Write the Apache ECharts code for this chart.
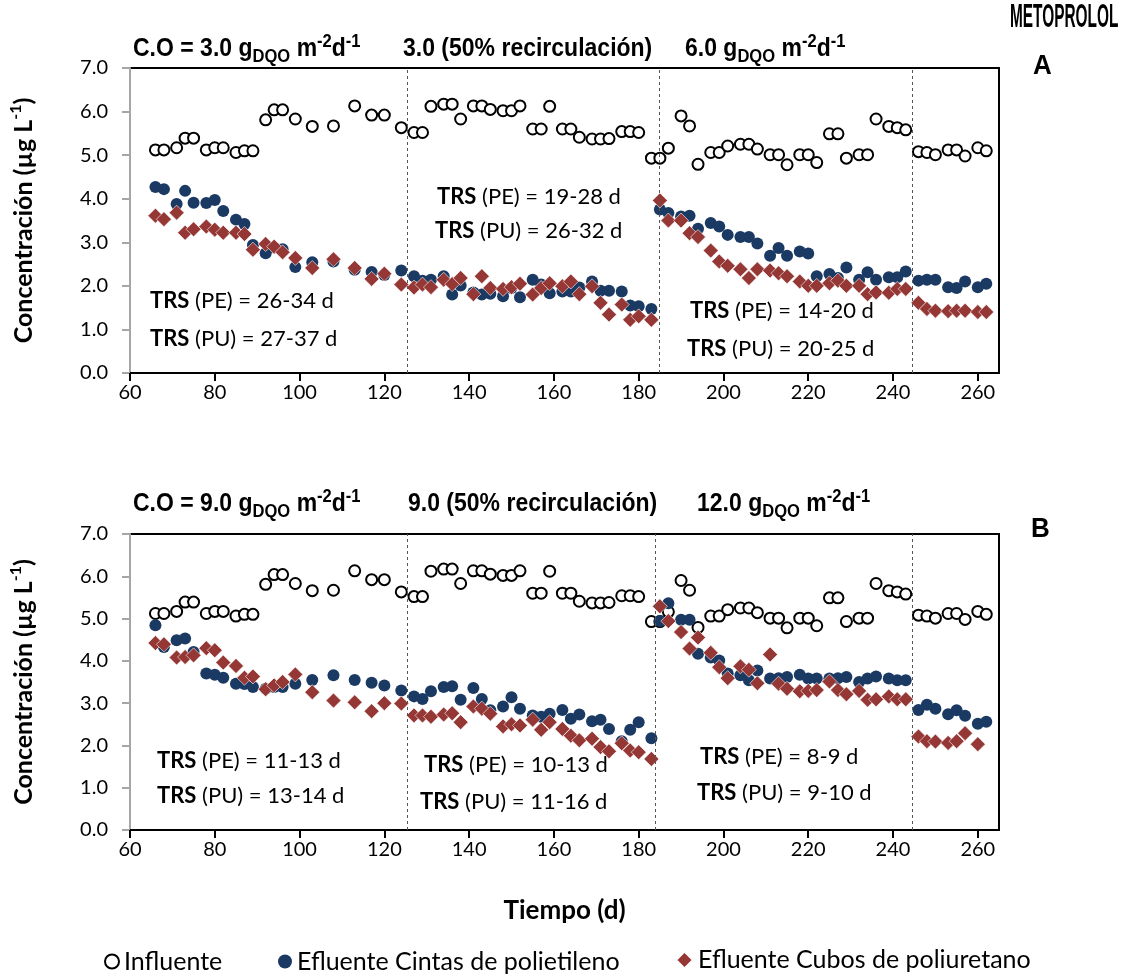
<!DOCTYPE html>
<html>
<head>
<meta charset="utf-8">
<script src="https://cdn.jsdelivr.net/npm/echarts@6/dist/echarts.min.js"></script>
<style>
html,body{margin:0;padding:0;background:#fff;}
#chart{width:1121px;height:976px;}
</style>
</head>
<body>
<div id="chart"></div>
<script>
// ---- DATA ----
const days = [66,68,71,73,75,78,80,82,85,87,89,92,94,96,99,103,108,113,117,120,124,127,129,131,134,136,138,141,143,145,148,150,152,155,157,159,162,164,166,169,171,173,176,178,180,183,185,187,190,192,194,197,199,201,204,206,208,211,213,215,218,220,222,225,227,229,232,234,236,239,241,243,246,248,250,253,255,257,260,262];

const influente = [5.12,5.12,5.17,5.39,5.39,5.12,5.17,5.17,5.06,5.10,5.10,5.81,6.04,6.04,5.83,5.66,5.67,6.13,5.92,5.92,5.63,5.52,5.52,6.12,6.17,6.17,5.83,6.13,6.13,6.05,6.02,6.02,6.13,5.60,5.60,6.12,5.60,5.60,5.41,5.37,5.37,5.38,5.54,5.54,5.52,4.93,4.93,5.16,5.90,5.67,4.79,5.06,5.06,5.21,5.25,5.25,5.14,5.01,5.01,4.78,5.01,5.01,4.83,5.49,5.49,4.93,5.01,5.01,5.83,5.66,5.63,5.58,5.08,5.06,5.01,5.12,5.12,4.98,5.17,5.10];

const peA = [4.27,4.22,3.88,4.18,3.91,3.90,3.97,3.72,3.52,3.42,2.94,2.75,2.88,2.84,2.43,2.54,2.56,2.37,2.32,2.25,2.35,2.22,2.12,2.14,2.22,1.80,2.01,1.85,1.80,1.82,1.76,1.95,1.74,2.14,2.03,1.83,1.87,1.87,1.96,2.10,1.89,1.89,1.87,1.55,1.53,1.47,3.75,3.67,3.59,3.61,3.31,3.44,3.36,3.17,3.12,3.12,2.97,2.69,2.87,2.69,2.79,2.74,2.22,2.27,2.18,2.42,2.14,2.31,2.14,2.20,2.20,2.33,2.12,2.14,2.14,1.97,1.95,2.10,1.97,2.05];

const puA = [3.61,3.53,3.68,3.22,3.30,3.36,3.29,3.22,3.22,3.19,2.83,2.96,2.90,2.77,2.64,2.41,2.61,2.41,2.16,2.28,2.03,1.96,2.03,1.97,2.14,2.04,2.18,1.81,2.22,1.95,1.93,1.97,2.05,1.80,1.95,2.06,1.99,2.10,1.81,1.99,1.61,1.34,1.57,1.22,1.30,1.22,3.96,3.50,3.50,3.21,3.12,2.81,2.56,2.46,2.38,2.18,2.38,2.35,2.29,2.22,2.10,2.00,2.00,2.06,2.12,2.00,2.00,1.81,1.85,1.84,1.93,1.93,1.61,1.47,1.43,1.42,1.43,1.43,1.40,1.40];

const peB = [4.84,4.33,4.49,4.53,4.21,3.70,3.67,3.60,3.46,3.45,3.38,3.34,3.38,3.38,3.46,3.55,3.66,3.55,3.48,3.42,3.30,3.16,3.10,3.28,3.38,3.40,3.08,3.36,3.10,2.83,2.92,3.14,2.87,2.71,2.68,2.75,2.84,2.63,2.73,2.57,2.61,2.39,2.10,2.37,2.55,2.17,4.94,5.36,4.97,4.97,4.17,4.08,4.01,3.70,3.66,3.54,3.77,3.58,3.59,3.62,3.67,3.58,3.58,3.58,3.59,3.62,3.50,3.58,3.63,3.58,3.54,3.54,2.84,2.96,2.87,2.74,2.83,2.70,2.51,2.56];

const puB = [4.42,4.39,4.08,4.09,4.13,4.30,4.25,3.96,3.88,3.60,3.63,3.33,3.42,3.50,3.68,3.26,3.06,3.02,2.81,3.00,2.99,2.71,2.71,2.68,2.73,2.76,2.55,2.92,2.87,2.75,2.45,2.50,2.47,2.61,2.37,2.55,2.39,2.23,2.12,2.16,1.96,1.86,2.05,1.88,1.84,1.68,5.29,4.94,4.68,4.29,4.55,4.19,3.85,3.59,3.87,3.79,3.47,4.15,3.46,3.34,3.28,3.29,3.31,3.51,3.31,3.21,3.29,3.08,3.09,3.16,3.09,3.09,2.21,2.10,2.09,2.06,2.10,2.29,2.03,null];

const xTicks = [60,80,100,120,140,160,180,200,220,240,260];
const phaseBoundsA = [125.5, 184.9, 244.5];
const phaseBoundsB = [125.5, 184.0, 244.6];

const seriesNames = ['Influente','Efluente Cintas de polietileno','Efluente Cubos de poliuretano'];

// ---- CHART ----
const NAVY = '#1b3a63';
const MAROON = '#953735';
const NUM_FONT = 'Lato, "Open Sans", sans-serif';
const HEAD_FONT = '"Liberation Sans", Arial, sans-serif';

function pairs(arr){ return days.map((d,i)=> arr[i]==null ? null : [d, arr[i]]); }

function xAxisCfg(gi){
  return {
    gridIndex: gi, type:'value', min:60, max:265,
    axisLine:{show:true, onZero:false, lineStyle:{color:'#000', width:2}},
    axisTick:{show:true, customValues:xTicks, length:8, lineStyle:{color:'#000', width:2}},
    axisLabel:{customValues:xTicks, fontSize:20, color:'#000', fontFamily:NUM_FONT, margin:10},
    splitLine:{show:false},
    name: gi===1 ? 'Tiempo (d)' : '',
    nameLocation:'middle', nameGap:68,
    nameTextStyle:{fontSize:26, fontWeight:'bold', color:'#000', fontFamily:NUM_FONT}
  };
}
function yAxisCfg(gi){
  return {
    gridIndex: gi, type:'value', min:0, max:7, interval:1,
    axisLine:{show:true, lineStyle:{color:'#a6a6a6', width:2}},
    axisTick:{show:true, length:8, lineStyle:{color:'#a6a6a6', width:2}},
    axisLabel:{fontSize:20, color:'#000', fontFamily:NUM_FONT, margin:22, formatter:v=>v.toFixed(1)},
    splitLine:{show:false},
    name:'{b|Concentración (µg L}{p|-1}{b|)}',
    nameLocation:'middle', nameGap:90, nameRotate:90,
    nameTextStyle:{rich:{
      b:{fontSize:25, fontWeight:'bold', color:'#000', fontFamily:NUM_FONT, lineHeight:32, verticalAlign:'middle'},
      p:{fontSize:16, fontWeight:'bold', color:'#000', fontFamily:NUM_FONT, lineHeight:16, verticalAlign:'top'}
    }}
  };
}
function markLines(bounds){
  return {
    silent:true, symbol:'none', label:{show:false},
    lineStyle:{type:[3,3], color:'#555', width:1},
    data: bounds.map(v=>({xAxis:v}))
  };
}
function panelSeries(gi, pe, pu, bounds){
  return [
    {name:seriesNames[0], type:'scatter', xAxisIndex:gi, yAxisIndex:gi, data:pairs(influente),
     symbol:'circle', symbolSize:11, itemStyle:{color:'#fff', borderColor:'#000', borderWidth:2, opacity:1},
     markLine: markLines(bounds), z:2},
    {name:seriesNames[1], type:'scatter', xAxisIndex:gi, yAxisIndex:gi, data:pairs(pe),
     symbol:'circle', symbolSize:12, itemStyle:{color:NAVY, opacity:1}, z:3},
    {name:seriesNames[2], type:'scatter', xAxisIndex:gi, yAxisIndex:gi, data:pairs(pu),
     symbol:'diamond', symbolSize:[15,15], itemStyle:{color:MAROON, borderColor:'#fff', borderWidth:0.6, opacity:1}, z:4}
  ];
}

const headRich = {
  n:{fontSize:25, fontWeight:'bold', fontFamily:HEAD_FONT, color:'#000', lineHeight:32, verticalAlign:'middle'},
  s:{fontSize:18, fontWeight:'bold', fontFamily:HEAD_FONT, color:'#000', lineHeight:18, verticalAlign:'bottom'},
  p:{fontSize:18, fontWeight:'bold', fontFamily:HEAD_FONT, color:'#000', lineHeight:18, verticalAlign:'top'}
};
function head(x, y, txt){
  return {type:'text', x:x, y:y, scaleX:0.92, scaleY:1.05, style:{text:txt, rich:headRich, verticalAlign:'middle', align:'left'}};
}
const trsRich = {
  b:{fontSize:22, fontWeight:'bold', fontFamily:NUM_FONT, color:'#000'},
  r:{fontSize:22, fontFamily:NUM_FONT, color:'#000'}
};
function trs(x, y, which, range){
  return {type:'text', x:x, y:y, style:{text:'{b|TRS}{r| ('+which+') = '+range+' d}', rich:trsRich, verticalAlign:'middle', align:'left'}};
}

const graphics = [
  {type:'text', x:1010, y:18, scaleX:0.57, scaleY:1.25, style:{text:'METOPROLOL', font:'bold 27px '+HEAD_FONT, fill:'#000', verticalAlign:'middle', align:'left'}},
  head(133, 49, '{n|C.O = 3.0 g}{s|DQO}{n| m}{p|-2}{n|d}{p|-1}'),
  head(403, 49, '{n|3.0 (50% recirculación)}'),
  head(685, 49, '{n|6.0 g}{s|DQO}{n| m}{p|-2}{n|d}{p|-1}'),
  {type:'text', x:1033, y:66, scaleY:1.08, style:{text:'A', font:'bold 26px '+HEAD_FONT, fill:'#000', verticalAlign:'middle', align:'left'}},
  head(133, 504, '{n|C.O = 9.0 g}{s|DQO}{n| m}{p|-2}{n|d}{p|-1}'),
  head(408, 504, '{n|9.0 (50% recirculación)}'),
  head(697, 504, '{n|12.0 g}{s|DQO}{n| m}{p|-2}{n|d}{p|-1}'),
  {type:'text', x:1031, y:529, scaleY:1.08, style:{text:'B', font:'bold 26px '+HEAD_FONT, fill:'#000', verticalAlign:'middle', align:'left'}},
  trs(150, 301, 'PE', '26-34'), trs(150, 339, 'PU', '27-37'),
  trs(437, 197, 'PE', '19-28'), trs(435, 231, 'PU', '26-32'),
  trs(690, 311, 'PE', '14-20'), trs(687, 349, 'PU', '20-25'),
  trs(157, 761, 'PE', '11-13'), trs(157, 796, 'PU', '13-14'),
  trs(424, 765, 'PE', '10-13'), trs(420, 802, 'PU', '11-16'),
  trs(700, 757, 'PE', '8-9'), trs(697, 793, 'PU', '9-10')
];

function legendAt(x, name, sz){
  return {data:[name], left:x, top:951 - sz/2, itemWidth:sz, itemHeight:sz, itemGap:10,
          textStyle:{fontSize:25, fontFamily:NUM_FONT, color:'#000'}, selectedMode:false};
}

const option = {
  backgroundColor:'#fff',
  animation:false,
  grid:[
    {left:129, top:68, width:870, height:305, show:true, borderColor:'#000', borderWidth:2, backgroundColor:'transparent'},
    {left:129, top:534, width:870, height:296, show:true, borderColor:'#000', borderWidth:2, backgroundColor:'transparent'}
  ],
  xAxis:[xAxisCfg(0), xAxisCfg(1)],
  yAxis:[yAxisCfg(0), yAxisCfg(1)],
  legend:[legendAt(99, seriesNames[0], 14), legendAt(273, seriesNames[1], 14), legendAt(670, seriesNames[2], 17)],
  graphic: graphics,
  series: [].concat(panelSeries(0, peA, puA, phaseBoundsA), panelSeries(1, peB, puB, phaseBoundsB))
};

const chart = echarts.init(document.getElementById('chart'), null, {renderer:'canvas'});
chart.setOption(option);
</script>
</body>
</html>
